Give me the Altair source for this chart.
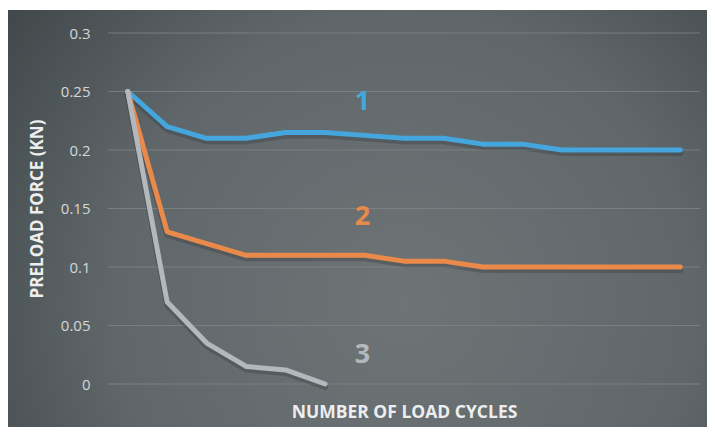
import altair as alt
import pandas as pd

# ---- data ----
cycles = list(range(1, 16))
series1 = [0.25, 0.22, 0.21, 0.21, 0.215, 0.215, 0.2125, 0.21, 0.21, 0.205, 0.205, 0.2, 0.2, 0.2, 0.2]
series2 = [0.25, 0.13, 0.12, 0.11, 0.11, 0.11, 0.11, 0.105, 0.105, 0.1, 0.1, 0.1, 0.1, 0.1, 0.1]
series3 = [0.25, 0.07, 0.035, 0.015, 0.012, 0.0]
series_names = ["1", "2", "3"]
series_colors = ["#45a6de", "#ea8a4a", "#b3b8bc"]
label_cycle = [7, 7, 7]
label_value = [0.241, 0.143, 0.025]
y_ticks = [0, 0.05, 0.1, 0.15, 0.2, 0.25, 0.3]

rows = []
for name, vals in zip(series_names, [series1, series2, series3]):
    for c, v in zip(cycles, vals):
        rows.append({"cycle": c, "force": v, "series": name})
lines_df = pd.DataFrame(rows)
labels_df = pd.DataFrame({"cycle": label_cycle, "force": label_value, "series": series_names})
grid_df = pd.DataFrame({"force": y_ticks})
bg_df = pd.DataFrame({"k": [0]})

FONT = "Open Sans"

x_enc = alt.X(
    "cycle:O",
    scale=alt.Scale(type="point", padding=0.5, domain=cycles),
    axis=alt.Axis(
        labels=False, ticks=False, domain=False, grid=False,
        title="NUMBER OF LOAD CYCLES",
        titleFont=FONT, titleFontSize=17.5, titleFontWeight="bold", titleColor="#eceeef",
        titleX=296, titleY=28, titleBaseline="middle", titleAlign="center",
        zindex=1,
    ),
)
y_scale = alt.Scale(domain=[0, 0.3], nice=False, zero=True)
y_enc = alt.Y(
    "force:Q",
    scale=y_scale,
    axis=alt.Axis(
        values=y_ticks, format="~g", ticks=False, domain=False, grid=False,
        labelFont=FONT, labelFontSize=15, labelColor="#d3d7d9", labelPadding=18,
        title="PRELOAD FORCE (KN)",
        titleFont=FONT, titleFontSize=17, titleFontWeight="bold", titleColor="#eceeef",
        titleAngle=270, titleX=-71, titleY=175.5, titleBaseline="middle", titleAlign="center",
        zindex=1,
    ),
)
color_scale = alt.Scale(domain=series_names, range=series_colors)

gradient = alt.RadialGradient(
    gradient="radial",
    stops=[
        alt.GradientStop(color="#6e7476", offset=0),
        alt.GradientStop(color="#60676a", offset=0.5),
        alt.GradientStop(color="#343b3d", offset=1),
    ],
    x1=0.55, y1=0.6, r1=0, x2=0.55, y2=0.6, r2=0.8,
)

background = alt.Chart(bg_df).mark_rect(fill=gradient, stroke=None).encode(
    x=alt.value(-102), x2=alt.value(620), y=alt.value(-23), y2=alt.value(420)
)

grid = alt.Chart(grid_df).mark_rule(color="#7f8587", strokeWidth=1, opacity=0.8).encode(
    y=y_enc,
    x=alt.value(0), x2=alt.value(592),
)

shadow = alt.Chart(lines_df).mark_line(
    color="#1e2426", strokeWidth=6, opacity=0.25, yOffset=3, strokeJoin="round", strokeCap="round"
).encode(x=x_enc, y=y_enc, detail="series:N")

lines = alt.Chart(lines_df).mark_line(
    strokeWidth=5, strokeJoin="round", strokeCap="round"
).encode(
    x=x_enc, y=y_enc,
    color=alt.Color("series:N", scale=color_scale, legend=None),
)

texts = alt.Chart(labels_df).mark_text(
    font=FONT, fontSize=27, fontWeight="bold", baseline="middle", align="center", dx=-2
).encode(
    x=x_enc, y=y_enc,
    text="series:N",
    color=alt.Color("series:N", scale=color_scale, legend=None),
)

chart = alt.layer(background, grid, shadow, lines, texts).properties(
    width=592, height=351,
    autosize=alt.AutoSizeParams(type="none"),
    padding={"left": 100, "top": 25, "right": 7, "bottom": 43},
    background="white",
).configure_view(stroke=None)

chart.save("out.html", embed_options={"renderer": "svg", "actions": False})
